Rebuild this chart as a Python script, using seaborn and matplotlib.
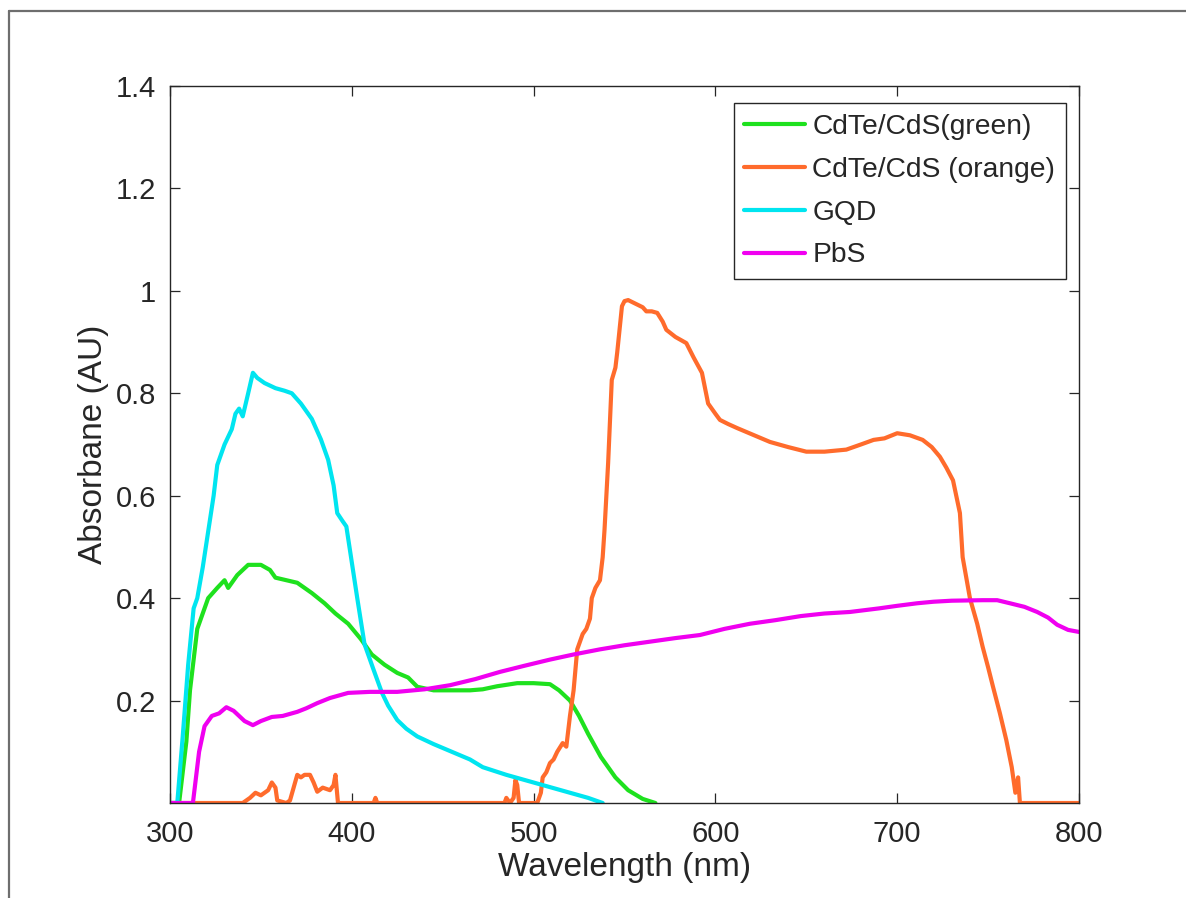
import numpy as np
import pandas as pd
import seaborn as sns
import matplotlib
matplotlib.use("Agg")
import matplotlib.pyplot as plt
from matplotlib.lines import Line2D

# ---------------- data ----------------
series_names = ["CdTe/CdS(green)", "CdTe/CdS (orange)", "GQD", "PbS"]

green_x = [300, 305, 309, 311, 315, 321, 326, 330, 332, 337, 343, 350, 355, 358, 364, 370,
           378, 385, 391, 398, 405, 411, 418, 425, 431, 436, 445, 455, 465, 472, 480, 491,
           500, 509, 514, 520, 525, 530, 537, 545, 552, 560, 567, 800]
green_y = [0.0, 0.0, 0.12, 0.22, 0.34, 0.40, 0.42, 0.435, 0.42, 0.445, 0.465, 0.465, 0.455, 0.44,
           0.435, 0.43, 0.41, 0.39, 0.37, 0.35, 0.32, 0.29, 0.27, 0.254, 0.245, 0.227, 0.22, 0.22,
           0.22, 0.222, 0.228, 0.234, 0.234, 0.232, 0.22, 0.20, 0.17, 0.135, 0.09, 0.05, 0.025,
           0.008, 0.0, np.nan]

orange_x = [300, 338, 340, 344, 347, 350, 354, 356, 358, 359, 364, 366, 368, 370, 372, 374,
            377, 379, 381, 384, 388, 390, 391, 392.4, 394, 412, 413, 414, 484, 485, 487, 489,
            490, 491, 492, 494, 502, 504, 505, 507, 509, 511, 513, 516, 518, 520, 522, 524,
            527, 529, 531, 532, 534, 536.5, 538, 539, 541, 543, 545, 546, 548.6, 550, 552,
            556, 560, 562, 565, 568, 571, 573, 578, 584, 588, 592.6, 596, 600, 602.5, 607,
            612, 620, 630, 640, 650, 660, 672, 680, 687, 693, 700, 707, 714, 719, 723.5, 727,
            730.7, 734.5, 736, 740, 744, 747, 750, 752.7, 756.5, 760, 763, 765, 766.5, 767.5,
            800]
orange_y = [0.0, 0.0, 0.0, 0.01, 0.02, 0.015, 0.025, 0.04, 0.03, 0.005, 0.0, 0.005, 0.03,
            0.055, 0.05, 0.055, 0.055, 0.04, 0.022, 0.03, 0.025, 0.035, 0.055, 0.0, 0.0, 0.0,
            0.01, 0.0, 0.0, 0.01, 0.0, 0.01, 0.045, 0.035, 0.0, 0.0, 0.0, 0.02, 0.05, 0.06,
            0.078, 0.085, 0.10, 0.117, 0.11, 0.17, 0.22, 0.30, 0.33, 0.34, 0.36, 0.40, 0.42,
            0.435, 0.48, 0.533, 0.664, 0.826, 0.85, 0.88, 0.97, 0.98, 0.982, 0.975, 0.968,
            0.96, 0.96, 0.957, 0.94, 0.924, 0.91, 0.898, 0.87, 0.84, 0.78, 0.76, 0.748, 0.74,
            0.732, 0.72, 0.705, 0.695, 0.686, 0.686, 0.69, 0.70, 0.709, 0.712, 0.722, 0.718,
            0.709, 0.695, 0.676, 0.655, 0.63, 0.566, 0.48, 0.40, 0.35, 0.305, 0.265, 0.227,
            0.175, 0.123, 0.07, 0.02, 0.05, 0.0, 0.0]

gqd_x = [300, 304, 307, 310, 313, 315, 318, 321, 324, 326, 330, 334, 336, 338, 340, 343,
         345.6, 348, 352, 358, 363, 367, 372, 378, 383, 387, 390, 392, 395, 397, 400, 403,
         407, 412, 416.6, 420, 425, 430, 436, 445, 455, 465, 472, 485, 500, 510, 520, 530,
         538, 800]
gqd_y = [0.0, 0.0, 0.13, 0.27, 0.38, 0.40, 0.46, 0.53, 0.60, 0.66, 0.70, 0.73, 0.76, 0.77,
         0.755, 0.80, 0.84, 0.83, 0.82, 0.81, 0.805, 0.80, 0.78, 0.75, 0.71, 0.67, 0.62,
         0.566, 0.55, 0.54, 0.47, 0.40, 0.31, 0.26, 0.215, 0.19, 0.162, 0.145, 0.13, 0.115,
         0.10, 0.085, 0.07, 0.055, 0.04, 0.03, 0.02, 0.01, 0.0, np.nan]

pbs_x = [300, 312.6, 316, 319, 323, 327, 331, 335, 341, 345.6, 350, 356, 362, 367, 370, 375,
         381, 388, 398, 410, 425, 440, 454, 468, 481.5, 495, 509, 522, 536.5, 550, 564, 578,
         591.5, 605, 619, 633, 647, 660, 674, 690, 700, 711, 720, 730, 747, 755, 762, 770,
         777, 783, 788, 794, 800]
pbs_y = [0.0, 0.0, 0.10, 0.15, 0.17, 0.175, 0.187, 0.18, 0.16, 0.152, 0.16, 0.168, 0.17,
         0.175, 0.178, 0.185, 0.195, 0.205, 0.215, 0.217, 0.217, 0.222, 0.23, 0.242, 0.256,
         0.268, 0.28, 0.29, 0.30, 0.308, 0.315, 0.322, 0.328, 0.34, 0.35, 0.357, 0.365, 0.37,
         0.373, 0.38, 0.385, 0.39, 0.393, 0.395, 0.396, 0.396, 0.39, 0.383, 0.373, 0.362,
         0.348, 0.338, 0.334]

colors = {"CdTe/CdS(green)": "#1EE11E", "CdTe/CdS (orange)": "#FF6B2C",
          "GQD": "#00E5F0", "PbS": "#F000F0"}

x_ticks = [300, 400, 500, 600, 700, 800]
y_ticks = [0.2, 0.4, 0.6, 0.8, 1.0, 1.2, 1.4]
y_tick_labels = ["0.2", "0.4", "0.6", "0.8", "1", "1.2", "1.4"]

# ---------------- build long-form frame ----------------
frames = []
for name, xs, ys in zip(series_names, [green_x, orange_x, gqd_x, pbs_x],
                        [green_y, orange_y, gqd_y, pbs_y]):
    frames.append(pd.DataFrame({"x": xs, "y": ys, "series": name}))
df = pd.concat(frames, ignore_index=True)

sns.set_style("white")
plt.rcParams["font.family"] = ["Liberation Sans", "DejaVu Sans"]

fig = plt.figure(figsize=(11.86, 8.98), dpi=100)
ax = fig.add_axes([170 / 1186, 1 - 803 / 898, (1079 - 170) / 1186, (803 - 86) / 898])

LW = 3.0
sns.lineplot(data=df, x="x", y="y", hue="series", hue_order=series_names, palette=colors,
             estimator=None, sort=False, units="series", lw=LW, ax=ax, legend=False)

ax.set_xlim(300, 800)
ax.set_ylim(0, 1.4)
ax.set_xticks(x_ticks)
ax.set_yticks(y_ticks)
ax.set_yticklabels(y_tick_labels)

axis_col = "#262626"
for s in ax.spines.values():
    s.set_visible(True)
    s.set_color(axis_col)
    s.set_linewidth(1.0)
ax.tick_params(axis="both", which="both", direction="in", length=7, width=0.9,
               colors=axis_col, labelcolor="#262626", labelsize=21,
               top=True, right=True, bottom=True, left=True)
ax.tick_params(axis="x", pad=12)
ax.tick_params(axis="y", pad=10)

ax.set_xlabel("Wavelength (nm)", fontsize=24, color="#262626", labelpad=3)
ax.set_ylabel("Absorbane (AU)", fontsize=24, color="#262626", labelpad=5)

handles = [Line2D([], [], color=colors[n], lw=LW) for n in series_names]
leg = ax.legend(handles, series_names, loc="upper right",
                bbox_to_anchor=(1066 / 1186, 1 - 103 / 898), bbox_transform=fig.transFigure,
                borderaxespad=0, fontsize=20.3, frameon=True, fancybox=False, framealpha=1,
                edgecolor="#262626", handlelength=2.16, handletextpad=0.25, labelspacing=0.6,
                borderpad=0.38)
leg.get_frame().set_linewidth(1.0)

# outer gray frame (screenshot border)
fig.add_artist(Line2D([9 / 1186, 9 / 1186], [0, 1 - 11 / 898], transform=fig.transFigure,
                      color="#6e6e6e", lw=1.6))
fig.add_artist(Line2D([9 / 1186, 1], [1 - 11 / 898, 1 - 11 / 898], transform=fig.transFigure,
                      color="#6e6e6e", lw=1.6))

fig.savefig("out.png", dpi=100, facecolor="white")
